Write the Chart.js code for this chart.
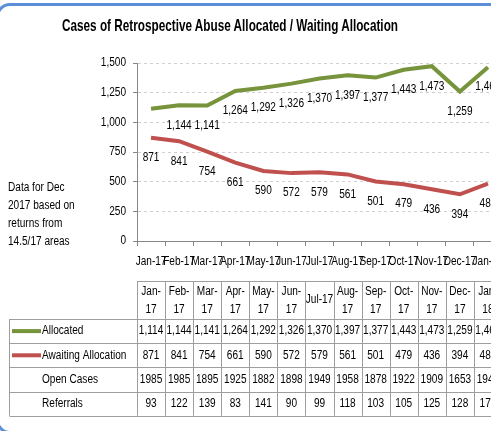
<!DOCTYPE html>
<html>
<head>
<meta charset="utf-8">
<script src="https://cdn.jsdelivr.net/npm/chart.js"></script>
<style>
  html, body { margin: 0; padding: 0; background: #fff; overflow: hidden; }
  #wrap { position: relative; width: 491px; height: 431px; overflow: hidden; }
  #frame { position: absolute; left: -4px; top: 3px; width: 600px; height: 431px;
           border: 3px solid #5B8FD8; border-radius: 14px; box-sizing: border-box; }
  #title { position: absolute; left: 230px; top: 16px; white-space: nowrap;
           font: bold 17px 'Liberation Sans', Arial, sans-serif; color: #000;
           transform-origin: 0 0; }
  #note { position: absolute; left: 8px; top: 178px; white-space: nowrap;
          font: 12px 'Liberation Sans', Arial, sans-serif;
          line-height: 18px; color: #000; transform: scaleX(0.84); transform-origin: 0 0; }
  canvas { position: absolute; left: 0; top: 0; }
</style>
</head>
<body>
<div id="wrap">
  <div id="frame"></div>
  <canvas id="chart" width="520" height="431"></canvas>
  <div id="title">Cases of Retrospective Abuse Allocated / Waiting Allocation</div>
  <div id="note">Data for Dec<br>2017 based on<br>returns from<br>14.5/17 areas</div>
</div>
<script>
// categorias y series
const meses = ['Jan-17','Feb-17','Mar-17','Apr-17','May-17','Jun-17','Jul-17',
               'Aug-17','Sep-17','Oct-17','Nov-17','Dec-17','Jan-18'];
const allocated = [1114,1144,1141,1264,1292,1326,1370,1397,1377,1443,1473,1259,1465];
const awaiting  = [871,841,754,661,590,572,579,561,501,479,436,394,484];
const openCases = [1985,1985,1895,1925,1882,1898,1949,1958,1878,1922,1909,1653,1945];
const referrals = [93,122,139,83,141,90,99,118,103,105,125,128,172];
const yTicks    = [0,250,500,750,1000,1250,1500];

const FONT = "'Liberation Sans', Arial, sans-serif";
const SX = 0.84; // compresión horizontal (imita Calibri)
const GREEN = '#77933C';
const RED   = '#C0504D';
const fmt = v => v.toLocaleString('en-US');

// título centrado y comprimido
(function () {
  const t = document.getElementById('title');
  const w = t.getBoundingClientRect().width;
  t.style.left = (230 - 168) + 'px';
  t.style.transform = 'scaleX(' + (336 / w) + ')';
})();

function txt(ctx, s, x, y, align) {
  ctx.save();
  ctx.translate(x, y);
  ctx.scale(SX, 1);
  ctx.textAlign = align || 'center';
  ctx.fillText(s, 0, 0);
  ctx.restore();
}

// etiquetas de ejes + etiquetas de datos
const labelsPlugin = {
  id: 'labelsPlugin',
  afterDatasetsDraw(chart) {
    const ctx = chart.ctx;
    const { x, y } = chart.scales;
    ctx.save();
    ctx.font = '12px ' + FONT;
    ctx.fillStyle = '#000';
    ctx.textBaseline = 'middle';
    y.ticks.forEach(t => txt(ctx, fmt(t.value), 126, y.getPixelForValue(t.value), 'right'));
    meses.forEach((m, i) => txt(ctx, m, x.getPixelForValue(i), x.top + 21));
    chart.data.datasets.forEach((ds, di) => {
      chart.getDatasetMeta(di).data.forEach((pt, i) => {
        if (di === 0 && i === 0) return; // Excel la ocultó
        txt(ctx, fmt(ds.data[i]), pt.x, pt.y + 20);
      });
    });
    ctx.restore();
  }
};

// tabla de datos tipo Excel
const dataTable = {
  id: 'dataTable',
  afterDraw(chart) {
    const ctx = chart.ctx;
    const x = chart.scales.x;
    const n = meses.length;
    const w = (x.right - x.left) / n;
    const left = x.left, right = x.left + w * n;
    const headTop = 281, rowTop = 319, rowH = 24.2, labLeft = 9.5;
    const rows = [
      { name: 'Allocated', color: GREEN, vals: allocated.map(fmt) },
      { name: 'Awaiting Allocation', color: RED, vals: awaiting.map(String) },
      { name: 'Open Cases', vals: openCases.map(String) },
      { name: 'Referrals', vals: referrals.map(String) },
    ];
    const bottom = rowTop + rowH * rows.length;

    ctx.save();
    ctx.strokeStyle = '#9E9E9E';
    ctx.lineWidth = 1;
    ctx.beginPath();
    ctx.moveTo(left, headTop + 0.5); ctx.lineTo(right, headTop + 0.5);
    for (let r = 0; r <= rows.length; r++) {
      const yy = Math.round(rowTop + r * rowH) + 0.5;
      ctx.moveTo(labLeft, yy); ctx.lineTo(right, yy);
    }
    ctx.moveTo(labLeft, rowTop); ctx.lineTo(labLeft, bottom);
    for (let i = 0; i <= n; i++) {
      const xx = Math.round(left + i * w) + 0.5;
      ctx.moveTo(xx, headTop); ctx.lineTo(xx, bottom);
    }
    ctx.stroke();

    ctx.font = '12px ' + FONT;
    ctx.fillStyle = '#000';
    ctx.textBaseline = 'middle';
    meses.forEach((m, i) => {
      const cx = left + (i + 0.5) * w;
      if (ctx.measureText(m).width * SX <= w - 0.5) {
        txt(ctx, m, cx, (headTop + rowTop) / 2);
      } else {
        const [a, b] = m.split('-');
        txt(ctx, a + '-', cx, headTop + 11);
        txt(ctx, b, cx, headTop + 29);
      }
    });
    rows.forEach((r, ri) => {
      const cy = rowTop + (ri + 0.5) * rowH;
      r.vals.forEach((v, i) => txt(ctx, v, left + (i + 0.5) * w, cy));
      txt(ctx, r.name, 42, cy, 'left');
      if (r.color) {
        ctx.strokeStyle = r.color;
        ctx.lineWidth = 4;
        ctx.beginPath();
        ctx.moveTo(12, cy); ctx.lineTo(41, cy);
        ctx.stroke();
      }
    });
    ctx.restore();
  }
};

new Chart(document.getElementById('chart'), {
  type: 'line',
  data: {
    labels: meses,
    datasets: [
      { label: 'Allocated', data: allocated, borderColor: GREEN, borderWidth: 4,
        pointRadius: 0, tension: 0, fill: false },
      { label: 'Awaiting Allocation', data: awaiting, borderColor: RED, borderWidth: 4,
        pointRadius: 0, tension: 0, fill: false }
    ]
  },
  options: {
    responsive: false,
    animation: false,
    layout: { padding: { left: 97, right: 18, top: 63, bottom: 160 } },
    plugins: { legend: { display: false }, tooltip: { enabled: false } },
    scales: {
      x: {
        offset: true,
        afterFit: s => { s.height = 30; },
        grid: { offset: true, drawOnChartArea: false, tickLength: 5, color: '#868686' },
        border: { color: '#868686' },
        ticks: { display: false, autoSkip: false, maxRotation: 0, minRotation: 0 }
      },
      y: {
        min: 0, max: 1500,
        afterFit: s => { s.width = 40; },
        afterBuildTicks: s => { s.ticks = yTicks.map(v => ({ value: v })); },
        grid: { color: '#D0D0D0', tickLength: 4, tickColor: '#868686' },
        border: { color: '#868686', dash: [3, 3] },
        ticks: { display: false }
      }
    }
  },
  plugins: [labelsPlugin, dataTable]
});
</script>
</body>
</html>
